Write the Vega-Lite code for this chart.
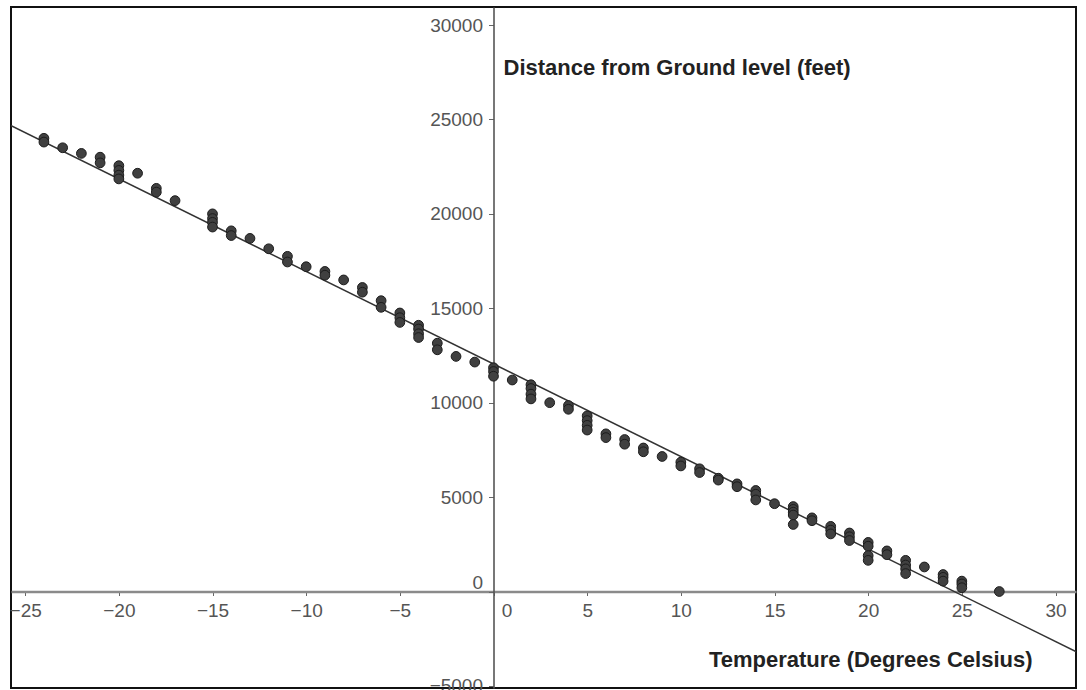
{
  "$schema": "https://vega.github.io/schema/vega-lite/v6.json",
  "width": 1065,
  "height": 681,
  "autosize": {"type": "none"},
  "padding": {"left": 11, "top": 7, "right": 10, "bottom": 2},
  "background": "white",
  "config": {
    "view": {"stroke": "#111111", "strokeWidth": 2},
    "font": "Liberation Sans"
  },
  "datasets": {
    "points": [
      {"t": -24, "d": 24000}, {"t": -24, "d": 23800},
      {"t": -23, "d": 23500},
      {"t": -22, "d": 23200},
      {"t": -21, "d": 23000}, {"t": -21, "d": 22700},
      {"t": -20, "d": 22550}, {"t": -20, "d": 22300}, {"t": -20, "d": 22050}, {"t": -20, "d": 21850},
      {"t": -19, "d": 22150},
      {"t": -18, "d": 21350}, {"t": -18, "d": 21150},
      {"t": -17, "d": 20700},
      {"t": -15, "d": 20000}, {"t": -15, "d": 19750}, {"t": -15, "d": 19550}, {"t": -15, "d": 19300},
      {"t": -14, "d": 19100}, {"t": -14, "d": 18850},
      {"t": -13, "d": 18700},
      {"t": -12, "d": 18150},
      {"t": -11, "d": 17750}, {"t": -11, "d": 17450},
      {"t": -10, "d": 17200},
      {"t": -9, "d": 16950}, {"t": -9, "d": 16750},
      {"t": -8, "d": 16500},
      {"t": -7, "d": 16100}, {"t": -7, "d": 15850},
      {"t": -6, "d": 15400}, {"t": -6, "d": 15050},
      {"t": -5, "d": 14750}, {"t": -5, "d": 14500}, {"t": -5, "d": 14250},
      {"t": -4, "d": 14100}, {"t": -4, "d": 13900}, {"t": -4, "d": 13650}, {"t": -4, "d": 13450},
      {"t": -3, "d": 13150}, {"t": -3, "d": 12800},
      {"t": -2, "d": 12450},
      {"t": -1, "d": 12150},
      {"t": 0, "d": 11850}, {"t": 0, "d": 11650}, {"t": 0, "d": 11400},
      {"t": 1, "d": 11200},
      {"t": 2, "d": 10950}, {"t": 2, "d": 10750}, {"t": 2, "d": 10450}, {"t": 2, "d": 10200},
      {"t": 3, "d": 10000},
      {"t": 4, "d": 9850}, {"t": 4, "d": 9650},
      {"t": 5, "d": 9300}, {"t": 5, "d": 9050}, {"t": 5, "d": 8800}, {"t": 5, "d": 8550},
      {"t": 6, "d": 8350}, {"t": 6, "d": 8150},
      {"t": 7, "d": 8050}, {"t": 7, "d": 7800},
      {"t": 8, "d": 7600}, {"t": 8, "d": 7400},
      {"t": 9, "d": 7150},
      {"t": 10, "d": 6850}, {"t": 10, "d": 6650},
      {"t": 11, "d": 6500}, {"t": 11, "d": 6300},
      {"t": 12, "d": 6000}, {"t": 12, "d": 5900},
      {"t": 13, "d": 5700}, {"t": 13, "d": 5550},
      {"t": 14, "d": 5350}, {"t": 14, "d": 5150}, {"t": 14, "d": 4850},
      {"t": 15, "d": 4650},
      {"t": 16, "d": 4500}, {"t": 16, "d": 4350}, {"t": 16, "d": 4200}, {"t": 16, "d": 4050}, {"t": 16, "d": 3550},
      {"t": 17, "d": 3900}, {"t": 17, "d": 3750},
      {"t": 18, "d": 3450}, {"t": 18, "d": 3250}, {"t": 18, "d": 3050},
      {"t": 19, "d": 3100}, {"t": 19, "d": 2900}, {"t": 19, "d": 2700},
      {"t": 20, "d": 2600}, {"t": 20, "d": 2400}, {"t": 20, "d": 1900}, {"t": 20, "d": 1650},
      {"t": 21, "d": 2150}, {"t": 21, "d": 1950},
      {"t": 22, "d": 1650}, {"t": 22, "d": 1400}, {"t": 22, "d": 1200}, {"t": 22, "d": 950},
      {"t": 23, "d": 1300},
      {"t": 24, "d": 900}, {"t": 24, "d": 750}, {"t": 24, "d": 550},
      {"t": 25, "d": 550}, {"t": 25, "d": 400}, {"t": 25, "d": 200},
      {"t": 27, "d": 0}
    ],
    "fit": [
      {"t": -26, "d": 24790},
      {"t": 32, "d": -3630}
    ]
  },
  "encoding": {
    "x": {
      "field": "t",
      "type": "quantitative",
      "scale": {"domain": [-25.757, 31.094], "nice": false, "zero": false},
      "axis": {
        "values": [-25, -20, -15, -10, -5, 0, 5, 10, 15, 20, 25, 30],
        "format": "d",
        "orient": "bottom",
        "offset": -96.5,
        "grid": false,
        "domainColor": "#8a8a8a",
        "domainWidth": 2.5,
        "tickColor": "#666666",
        "tickWidth": 1,
        "tickSize": 4,
        "labelFont": "Liberation Sans",
        "labelFontSize": 19,
        "labelColor": "#555555",
        "labelPadding": 6,
        "labelFlush": false,
        "labelOverlap": false,
        "labelOffset": {"condition": {"test": "datum.value === 0", "value": 13}, "value": 0},
        "title": "Temperature (Degrees Celsius)",
        "titleFont": "Liberation Sans",
        "titleFontSize": 22,
        "titleFontWeight": "bold",
        "titleColor": "#222222",
        "titleAlign": "right",
        "titleBaseline": "middle",
        "titleX": 1021,
        "titleY": 67.5
      }
    },
    "y": {
      "field": "d",
      "type": "quantitative",
      "scale": {"domain": [-5110, 30954], "nice": false, "zero": false},
      "axis": {
        "values": [-5000, 0, 5000, 10000, 15000, 20000, 25000, 30000],
        "format": "d",
        "orient": "left",
        "offset": -482.5,
        "grid": false,
        "domainColor": "#555555",
        "domainWidth": 1.6,
        "tickColor": "#666666",
        "tickWidth": 1,
        "tickSize": 5,
        "labelFont": "Liberation Sans",
        "labelFontSize": 19,
        "labelColor": "#555555",
        "labelPadding": 6,
        "labelFlush": false,
        "labelOverlap": false,
        "labelOffset": {"condition": {"test": "datum.value === 0", "value": -9}, "value": 0},
        "title": "Distance from Ground level (feet)",
        "titleFont": "Liberation Sans",
        "titleFontSize": 22,
        "titleFontWeight": "bold",
        "titleColor": "#222222",
        "titleAngle": 0,
        "titleAlign": "left",
        "titleBaseline": "middle",
        "titleX": 9.5,
        "titleY": 60
      }
    }
  },
  "layer": [
    {
      "data": {"name": "fit"},
      "mark": {"type": "line", "color": "#333333", "strokeWidth": 1.5, "clip": true}
    },
    {
      "data": {"name": "points"},
      "mark": {"type": "point", "shape": "circle", "filled": true, "size": 95, "fill": "#404040", "stroke": "#1c1c1c", "strokeWidth": 1, "opacity": 1, "fillOpacity": 1}
    }
  ]
}
